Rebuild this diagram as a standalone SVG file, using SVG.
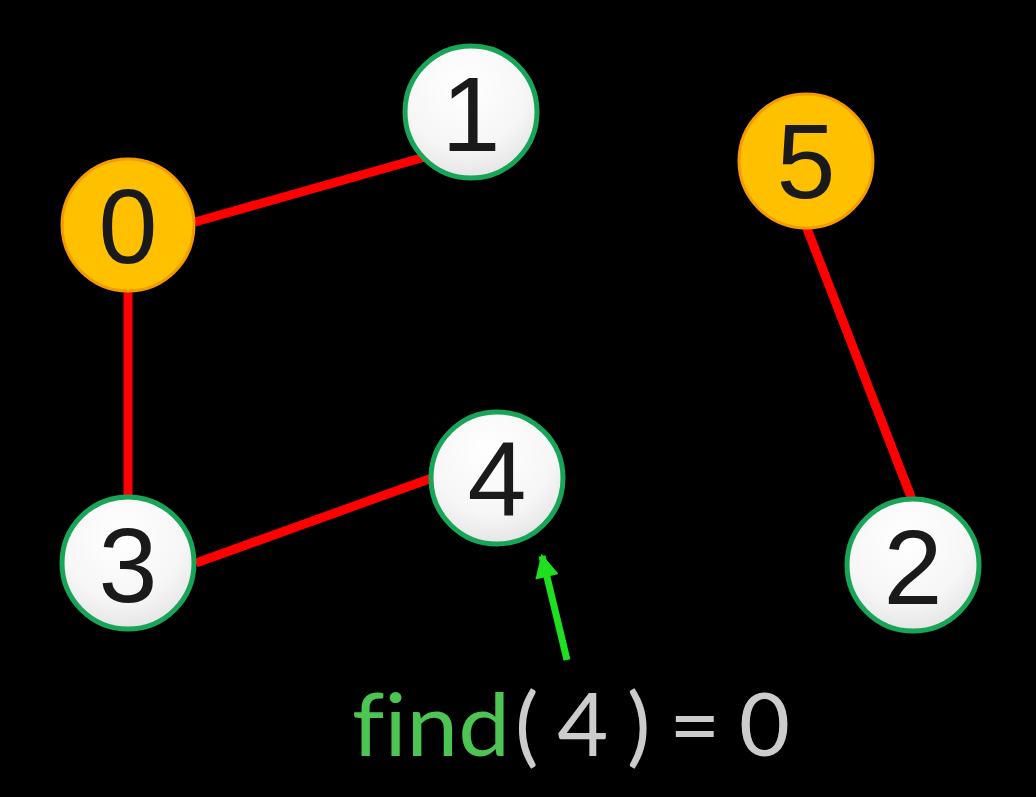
<svg xmlns="http://www.w3.org/2000/svg" width="1036" height="797" viewBox="0 0 1036 797">
<defs>
<radialGradient id="wg" cx="0.45" cy="0.3" r="0.8">
<stop offset="0" stop-color="#ffffff"/>
<stop offset="0.6" stop-color="#f6f6f6"/>
<stop offset="1" stop-color="#dedede"/>
</radialGradient>
<marker id="ah" viewBox="0 0 10 10" refX="9" refY="5" markerWidth="3.6" markerHeight="3.4" orient="auto" markerUnits="strokeWidth">
<path d="M0,0 L10,5 L0,10 z" fill="#1ee01e"/>
</marker>
</defs>
<style>
.edge{stroke:#ff0000;stroke-width:9;fill:none}
.root{fill:#ffc000;stroke:#f59b00;stroke-width:3}
.leaf{fill:url(#wg);stroke:#18a558;stroke-width:5}
.lbl{font-family:"Liberation Sans",Arial,sans-serif;font-size:106px;fill:#1a1a1a;text-anchor:middle}
.cap{font-family:Lato,"Open Sans",sans-serif;font-size:88px;font-variant-ligatures:none}
</style>
<rect width="1036" height="797" fill="#000"/>
<g id="connectors">
<line class="edge" x1="195" y1="222" x2="425" y2="157"/>
<line class="edge" x1="128" y1="290" x2="128" y2="498"/>
<line class="edge" x1="196" y1="563" x2="432" y2="478"/>
<line class="edge" x1="806" y1="226" x2="913" y2="502"/>
<line x1="567" y1="660" x2="542" y2="556" stroke="#1ee01e" stroke-width="7" marker-end="url(#ah)"/>
</g>
<g id="node0"><circle class="root" cx="128" cy="225" r="66"/><text class="lbl" x="128" y="263">0</text></g>
<g id="node1"><circle class="leaf" cx="471" cy="112" r="66"/><text class="lbl" x="471" y="151">1</text></g>
<g id="node5"><circle class="root" cx="806" cy="161" r="67"/><text class="lbl" x="806" y="198">5</text></g>
<g id="node4"><circle class="leaf" cx="497" cy="478" r="66"/><text class="lbl" x="497" y="516">4</text></g>
<g id="node3"><circle class="leaf" cx="128" cy="563" r="66"/><text class="lbl" x="128" y="602">3</text></g>
<g id="node2"><circle class="leaf" cx="913" cy="565" r="66"/><text class="lbl" x="913" y="604">2</text></g>
<g id="caption">
<text class="cap" x="352" y="756" fill="#4cc552" textLength="158" lengthAdjust="spacingAndGlyphs">find</text>
<text class="cap" x="515" y="756" fill="#cccccc" textLength="275">( 4 ) = 0</text>
</g>
</svg>
